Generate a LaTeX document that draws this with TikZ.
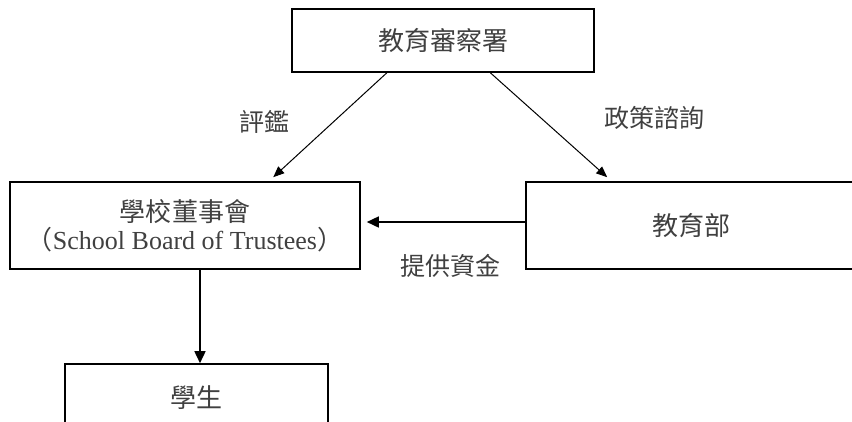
\documentclass[tikz,border=0pt]{standalone}
\usepackage{fontspec}
\setmainfont{Liberation Serif}
\newfontfamily\cjk{Noto Sans CJK TC}
\usetikzlibrary{arrows.meta,calc}
\begin{document}
\begin{tikzpicture}[x=1bp,y=-1bp,
  box/.style={draw,line width=1.6bp,rectangle,inner sep=0pt,align=center,text=black!75,
    font=\fontsize{26bp}{28bp}\selectfont},
  lbl/.style={text=black!75,inner sep=0pt,font=\cjk\fontsize{25bp}{27bp}\selectfont},
  thin arrow/.style={line width=1bp,-{Triangle[length=11bp,width=9bp]}},
  thick arrow/.style={line width=1.6bp,-{Triangle[length=12bp,width=11bp]}}]
\useasboundingbox (0,0) rectangle (852,421);
\clip (0,0) rectangle (852,421);
\node[box,minimum width=302bp,minimum height=63bp] (ero) at (443,40.5) {\cjk 教育審察署};
\node[box,minimum width=350bp,minimum height=87bp] (board) at (185,225.5)
  {\cjk 學校董事會\\{\cjk（}School Board of Trustees{\cjk）}};
\node[box,minimum width=330bp,minimum height=87bp] (moe) at (691,225.5) {\cjk 教育部};
\node[box,minimum width=263bp,minimum height=68bp] (stud) at (196.5,398) {\cjk 學生};
\coordinate (a1) at ($(ero.south west)!0.315!(ero.south east)$);
\coordinate (a2) at ($(ero.south west)!0.656!(ero.south east)$);
\coordinate (b1) at ($(board.north west)!0.751!(board.north east)+(0,-4)$);
\coordinate (b2) at ($(moe.north west)+(82,-4)$);
\draw[thin arrow] (a1) -- (b1);
\draw[thin arrow] (a2) -- (b2);
\draw[thick arrow,shorten >=6bp] ($(moe.west)+(0,-3.5)$) -- ($(board.east)+(0,-3.5)$);
\draw[thick arrow] (board.south -| stud.north) ++(3.5,0) coordinate (c1) -- (c1 |- stud.north);
\node[lbl] (l1) at (264,122) {評鑑};
\node[lbl] (l2) at (654,118) {政策諮詢};
\node[lbl] (l3) at (450,266) {提供資金};
\end{tikzpicture}
\end{document}
